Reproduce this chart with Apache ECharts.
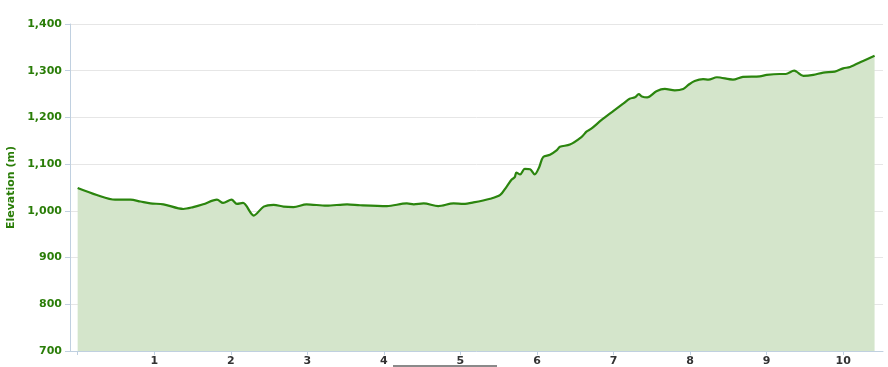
<!DOCTYPE html>
<html>
<head>
<meta charset="utf-8">
<script src="https://cdn.jsdelivr.net/npm/echarts@6/dist/echarts.min.js"></script>
<style>html,body{margin:0;padding:0;background:#fff}#c{width:888px;height:367px}</style>
</head>
<body>
<div id="c"></div>
<script>
const distanceKm = [0,0.25,0.49,0.69,0.82,0.95,1.12,1.38,1.51,1.64,1.82,1.90,2.01,2.08,2.16,2.30,2.43,2.56,2.69,2.82,2.99,3.25,3.52,3.69,4.04,4.30,4.39,4.52,4.71,4.91,5.04,5.17,5.39,5.52,5.60,5.67,5.71,5.73,5.78,5.84,5.91,5.97,6.03,6.08,6.17,6.26,6.30,6.43,6.58,6.65,6.71,6.84,7.00,7.13,7.21,7.28,7.33,7.37,7.44,7.56,7.67,7.80,7.91,7.98,8.06,8.17,8.24,8.35,8.56,8.69,8.91,9.00,9.17,9.25,9.36,9.39,9.48,9.61,9.74,9.89,10.00,10.09,10.26,10.41];
const elevationM = [1049,1034,1024,1024,1020,1016,1014,1004,1008,1014,1024,1017,1024,1015,1017,990,1009,1013,1009,1008,1014,1011,1014,1012,1010,1016,1014,1016,1010,1016,1015,1018,1026,1034,1051,1067,1072,1082,1078,1090,1089,1078,1094,1115,1120,1130,1137,1142,1158,1170,1176,1194,1214,1230,1240,1243,1250,1245,1243,1256,1261,1258,1261,1270,1278,1282,1281,1286,1281,1287,1288,1291,1293,1293,1300,1298,1289,1291,1296,1298,1305,1308,1321,1332];
const xTickLabels = ['1','2','3','4','5','6','7','8','9','10'];
const yTickValues = [700,800,900,1000,1100,1200,1300,1400];

const chart = echarts.init(document.getElementById('c'));
const pts = distanceKm.map((d,i)=>[d, elevationM[i]]);
const font = 'DejaVu Sans';
chart.setOption({
  animation:false,
  grid:{left:70,right:5,top:24,bottom:16,containLabel:false,outerBoundsMode:'none'},
  xAxis:{
    type:'value', min:-0.1, max:10.52, interval:1,
    axisLine:{show:true,onZero:false,lineStyle:{color:'#c0d0e0',width:1}},
    axisTick:{show:true,length:4,lineStyle:{color:'#c0d0e0'},customValues:[0,1,2,3,4,5,6,7,8,9,10]},
    axisLabel:{show:true,customValues:xTickLabels.map(Number),formatter:v=>xTickLabels.includes(String(v))?String(v):'',
      color:'#333',fontFamily:font,fontWeight:'bold',fontSize:11,margin:5},
    splitLine:{show:false}
  },
  yAxis:{
    type:'value', min:700, max:1400, interval:100,
    name:'Elevation (m)', nameLocation:'middle', nameGap:47, nameRotate:90,
    nameTextStyle:{color:'#2a7d08',fontFamily:font,fontWeight:'bold',fontSize:11},
    axisLine:{show:true,onZero:false,lineStyle:{color:'#c0d0e0',width:1}},
    axisTick:{show:true,length:5,lineStyle:{color:'#c0d0e0'}},
    axisLabel:{color:'#2a7d08',fontFamily:font,fontWeight:'bold',fontSize:11,margin:8,
      formatter:v=>yTickValues.includes(v)?v.toLocaleString('en-US'):''},
    splitLine:{show:true,lineStyle:{color:'#e6e6e6',width:1}}
  },
  series:[{
    type:'line', data:pts, showSymbol:false, smooth:0.3,
    lineStyle:{color:'#2b850e',width:2.2},
    areaStyle:{color:'#d4e5cb',opacity:1},
    z:3
  }],
  graphic:[{type:'rect',shape:{x:393,y:365,width:104,height:2},style:{fill:'#8a8a8a'}}]
});
</script>
</body>
</html>
